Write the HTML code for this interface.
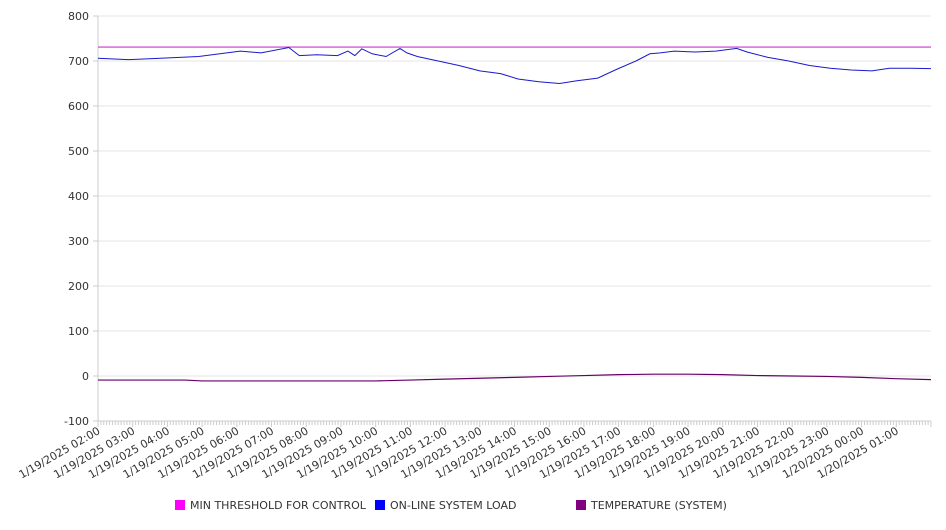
<!DOCTYPE html>
<html><head><meta charset="utf-8"><style>
body{margin:0;background:#fff;font-family:"DejaVu Sans","Liberation Sans",sans-serif;}
text{font-family:"DejaVu Sans","Liberation Sans",sans-serif;font-size:11px;fill:#333;}
</style></head><body>
<svg id="chart" width="946" height="526" xmlns="http://www.w3.org/2000/svg">
<g id="grid"></g>
<g id="axes"></g>
<g id="series"></g>
<g id="legend"></g>
</svg>
<script>
const yTicks=[800,700,600,500,400,300,200,100,0,-100];
const xLabels=["1/19/2025 02:00","1/19/2025 03:00","1/19/2025 04:00","1/19/2025 05:00","1/19/2025 06:00","1/19/2025 07:00","1/19/2025 08:00","1/19/2025 09:00","1/19/2025 10:00","1/19/2025 11:00","1/19/2025 12:00","1/19/2025 13:00","1/19/2025 14:00","1/19/2025 15:00","1/19/2025 16:00","1/19/2025 17:00","1/19/2025 18:00","1/19/2025 19:00","1/19/2025 20:00","1/19/2025 21:00","1/19/2025 22:00","1/19/2025 23:00","1/20/2025 00:00","1/20/2025 01:00"];
const thresholdValue=731;
const loadHours=[0,0.9,1.8,2.9,4.1,4.7,5.5,5.8,6.3,6.9,7.2,7.4,7.6,7.9,8.3,8.7,8.9,9.2,9.8,10.4,11.0,11.6,12.1,12.7,13.3,13.8,14.4,14.9,15.5,15.9,16.2,16.6,17.2,17.8,18.4,18.7,19.3,19.9,20.5,21.1,21.7,22.3,22.8,23.4,24.0];
const loadValues=[706,703,706,710,722,718,730,712,714,712,722,712,727,716,710,728,718,710,700,690,678,672,660,654,650,656,662,680,700,716,718,722,720,722,728,720,708,700,690,684,680,678,684,684,683];
const tempHours=[0,2.5,3,6,7,8,9,10,11,12,13,14,15,16,17,18,19,20,21,22,23,24];
const tempValues=[-9,-9,-11,-11,-11,-11,-9,-7,-5,-3,-1,1,3,4,4,3,1,0,-1,-3,-6,-8];
const L=98,R=931,T=16,B=421,NS="http://www.w3.org/2000/svg";
const ymin=-100,ymax=800;
const y=v=>B-(v-ymin)/(ymax-ymin)*(B-T);
const x=h=>L+h/24*(R-L);
function el(t,a,p){const e=document.createElementNS(NS,t);for(const k in a)e.setAttribute(k,a[k]);p.appendChild(e);return e;}
const grid=document.getElementById('grid'),axes=document.getElementById('axes'),series=document.getElementById('series'),legend=document.getElementById('legend');
yTicks.forEach(v=>{
 const g=el('line',{x1:L,x2:R,y1:y(v),y2:y(v),stroke:'#e6e6e6','stroke-width':1},grid);
 
 el('line',{x1:L-5,x2:L,y1:y(v),y2:y(v),stroke:'#ccc'},axes);
 const t=el('text',{x:L-9,y:y(v)+4,'text-anchor':'end'},axes);t.textContent=v;
 
});
el('line',{x1:L,x2:L,y1:T,y2:B,stroke:'#ccc'},axes);
el('line',{x1:L,x2:R,y1:B,y2:B,stroke:'#ccc'},axes);
for(let i=0;i<=24*12;i++){const xx=x(i/12);el('line',{x1:xx,x2:xx,y1:B,y2:B+(i%12?4:6),stroke:'#ccc'},axes);}
xLabels.forEach((s,i)=>{
 const xx=x(i)+3,yy=B+12;
 const t=el('text',{x:xx,y:yy,'text-anchor':'end',transform:`rotate(-30 ${xx} ${yy})`},axes);t.textContent=s;
 
});
const th=el('line',{x1:L,x2:R,y1:y(thresholdValue),y2:y(thresholdValue),stroke:'#cc33cc','stroke-width':1.2},series);

const lp=el('polyline',{points:loadHours.map((h,i)=>x(h)+','+y(loadValues[i])).join(' '),fill:'none',stroke:'#1a1acc','stroke-width':1},series);

const tp=el('polyline',{points:tempHours.map((h,i)=>x(h)+','+y(tempValues[i])).join(' '),fill:'none',stroke:'#660066','stroke-width':1.2},series);

[["MIN THRESHOLD FOR CONTROL","#ff00ff",175],["ON-LINE SYSTEM LOAD","#0000ff",375],["TEMPERATURE (SYSTEM)","#800080",576]].forEach(([n,c,lx])=>{
 const g=el('g',{},legend);
 el('rect',{x:lx,y:500,width:10,height:10,fill:c},g);
 const t=el('text',{x:lx+15,y:509},g);t.textContent=n;
});
</script>
</body></html>
